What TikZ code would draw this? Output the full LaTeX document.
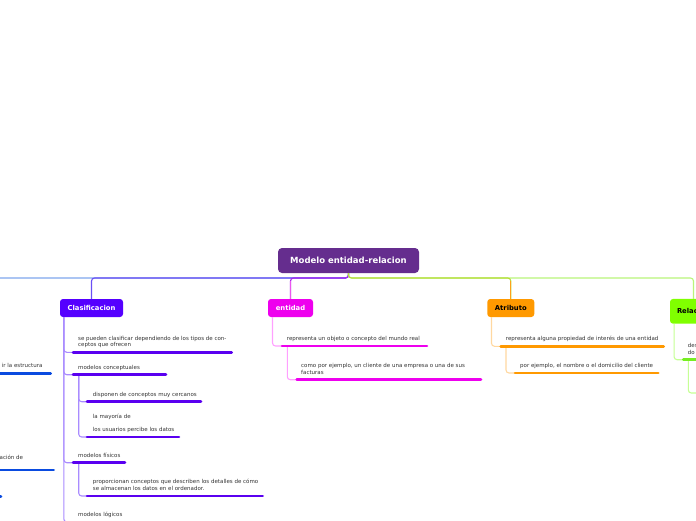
\documentclass[tikz,border=0pt]{standalone}
\usepackage{fontspec}
\setmainfont{DejaVu Sans}
\definecolor{cT}{HTML}{652D8E}
\definecolor{cC}{HTML}{5500FF}
\definecolor{cE}{HTML}{EE00EE}
\definecolor{cA}{HTML}{FF9900}
\definecolor{cR}{HTML}{80FF00}
\definecolor{cCu}{HTML}{5A00F0}
\definecolor{cRu}{HTML}{77EE22}
\definecolor{cLu}{HTML}{0A4BE0}
\definecolor{cCl}{HTML}{A98BFF}
\definecolor{cEl}{HTML}{FFA0FF}
\definecolor{cAl}{HTML}{FFD8A0}
\definecolor{cRl}{HTML}{C6FF95}
\definecolor{hL}{HTML}{7FA6EE}
\definecolor{hC}{HTML}{6A4FF5}
\definecolor{hE}{HTML}{A626EE}
\definecolor{vE}{HTML}{EE55EE}
\definecolor{hA}{HTML}{B8DD3A}
\definecolor{vA}{HTML}{FF9F1A}
\definecolor{hR}{HTML}{B9F57A}
\definecolor{txtgray}{HTML}{333333}
\newcommand{\twol}[2]{\parbox[b]{300pt}{\raggedright #1\\#2}}
\tikzset{
  titlebox/.style={draw=none, fill=cT, rounded corners=4pt, minimum width=141pt, minimum height=25pt,
    inner sep=0pt, text=white, font=\fontsize{8.5}{10}\selectfont\bfseries},
  topic/.style={draw=none, rounded corners=3pt, minimum height=18pt, inner sep=0pt,
    font=\fontsize{6.8}{8}\selectfont\bfseries},
  txt/.style={inner sep=0pt, anchor=base west, text=txtgray, font=\fontsize{5.5}{6.6}\selectfont},
  conn/.style={line width=1.1pt, rounded corners=3pt},
  ul/.style={line width=2.6pt, line cap=round},
}
\begin{document}
\begin{tikzpicture}[x=1pt,y=-1pt]
\useasboundingbox (0,0) rectangle (696,520);
\clip (0,0) rectangle (696,520);
\fill[white] (0,0) rectangle (696,520);

% main nodes
\node[titlebox] (T) at (348.5,260.5) {Modelo entidad-relacion};
\node[topic, fill=cC, text=white, minimum width=63pt] (C) at (91.5,308) {Clasificacion};
\node[topic, fill=cE, text=white, minimum width=45pt] (E) at (290.5,308) {entidad};
\node[topic, fill=cA, text=black, minimum width=47pt] (A) at (510.8,308) {Atributo};
\node[topic, fill=cR, text=black, minimum width=47pt, minimum height=24.7pt, text width=33pt, align=left] (R) at (693.5,311.3) {Relac};

\coordinate (hy) at (0,278);
\coordinate (lft) at (-10,278);

% top connectors
\draw[conn, hL] (T.south) |- (lft);
\draw[conn, hC] (T.south) -- (T.south |- hy) -| (C.north);
\draw[conn, hE] (T.south) -- (T.south |- hy) -| (E.north);
\draw[conn, vE] (E.north) -- ([yshift=-3pt]E.north |- hy);
\draw[conn, hR] (T.south) -- (T.south |- hy) -| (R.north);
\draw[conn, hA] (T.south) -- (T.south |- hy) -| (A.north);
\draw[conn, vA] (A.north) -- ([yshift=-3pt]A.north |- hy);

% Clasificacion children
\coordinate (c1s) at (73,352.3);  \coordinate (c1e) at (231.7,352.3);
\coordinate (c2s) at (73,374.7);  \coordinate (c2e) at (166,374.7);
\coordinate (c21s) at (87,401.7); \coordinate (c21e) at (201,401.7);
\coordinate (c22s) at (87,437);   \coordinate (c22e) at (179,437);
\coordinate (c3s) at (73,462.7);  \coordinate (c3e) at (125,462.7);
\coordinate (c31s) at (87,496);   \coordinate (c31e) at (262.7,496);
\coordinate (c4s) at (73,522);    \coordinate (c4e) at (125,522);

\foreach \k in {c1s,c2s,c3s,c4s}{
  \draw[conn, cCl] ([xshift=4pt]C.south west) |- (\k);
}
\draw[conn, cCl] ([xshift=5.7pt]c2s) |- (c21s);
\draw[conn, cCl] ([xshift=5.7pt]c2s) |- (c22s);
\draw[conn, cCl] ([xshift=5.7pt]c3s) |- (c31s);

\foreach \a/\b in {c1s/c1e,c2s/c2e,c21s/c21e,c22s/c22e,c3s/c3e,c31s/c31e,c4s/c4e}{
  \draw[ul, cCu] (\a) -- (\b);
}
\node[txt] (c1t) at ([shift={(5,-5.4)}]c1s) {\twol{se pueden clasificar dependiendo de los tipos de con-}{ceptos que ofrecen}};
\node[txt] (c2t) at ([shift={(5,-5.4)}]c2s) {modelos conceptuales};
\node[txt] (c21t) at ([shift={(5.7,-5.4)}]c21s) {disponen de conceptos muy cercanos};
\node[txt] (c22t) at ([shift={(5.7,-5.4)}]c22s) {\parbox[b]{300pt}{\raggedright la mayoría de\\[6.6pt]los usuarios percibe los datos}};
\node[txt] (c3t) at ([shift={(5,-5.4)}]c3s) {modelos físicos};
\node[txt] (c31t) at ([shift={(5.7,-5.8)}]c31s) {\twol{proporcionan conceptos que describen los detalles de cómo}{se almacenan los datos en el ordenador.}};
\node[txt] (c4t) at ([shift={(5,-5.5)}]c4s) {modelos lógicos};

% entidad children
\coordinate (e1s) at (282,346);    \coordinate (e1e) at (427,346);
\coordinate (e11s) at (296.7,379.7); \coordinate (e11e) at (481,379.7);
\draw[conn, cEl] ([xshift=4.7pt]E.south west) |- (e1s);
\draw[conn, cEl] ([xshift=5.3pt]e1s) |- (e11s);
\draw[ul, cE] (e1s) -- (e1e);
\draw[ul, cE] (e11s) -- (e11e);
\node[txt] (e1t) at ([shift={(4.7,-5.5)}]e1s) {representa un objeto o concepto del mundo real};
\node[txt] (e11t) at ([shift={(4.3,-5.2)}]e11s) {\twol{como por ejemplo, un cliente de una empresa o una de sus}{facturas}};

% Atributo children
\coordinate (a1s) at (500.7,346.3); \coordinate (a1e) at (663.7,346.3);
\coordinate (a11s) at (515,373);    \coordinate (a11e) at (658.3,373);
\draw[conn, cAl] ([xshift=4.4pt]A.south west) |- (a1s);
\draw[conn, cAl] ([xshift=5.3pt]a1s) |- (a11s);
\draw[ul, cA] (a1s) -- (a1e);
\draw[ul, cA] (a11s) -- (a11e);
\node[txt] (a1t) at ([shift={(5,-5.5)}]a1s) {representa alguna propiedad de interés de una entidad};
\node[txt] (a11t) at ([shift={(5,-5.5)}]a11s) {por ejemplo, el nombre o el domicilio del cliente};

% Relacion children
\coordinate (r1s) at (683.3,359.7); \coordinate (r1e) at (720,359.7);
\coordinate (r11s) at (697,393);    \coordinate (r11e) at (760,393);
\draw[conn, cRl] ([xshift=4.3pt]R.south west) |- (r1s);
\draw[conn, cRl] ([xshift=5pt]r1s) |- (r11e);
\draw[ul, cRu] (r1s) -- (r1e);
\node[txt] (r1t) at ([shift={(4.4,-5.5)}]r1s) {\twol{des}{do}};

% left (cut) branch
\coordinate (l1s) at (-10,373.3); \coordinate (l1e) at (50.7,373.3);
\coordinate (l2s) at (-10,470);   \coordinate (l2e) at (53.7,470);
\coordinate (l3s) at (-10,496.7); \coordinate (l3e) at (1,496.7);
\draw[ul, cLu] (l1s) -- (l1e);
\draw[ul, cLu] (l2s) -- (l2e);
\draw[ul, cLu] (l3s) -- (l3e);
\node[txt, anchor=base east] (l1t) at (42.7,367.2) {ir la estructura};
\node[txt, anchor=base east] (l2t) at (23.3,459.2) {ación de};
\end{tikzpicture}
\end{document}
